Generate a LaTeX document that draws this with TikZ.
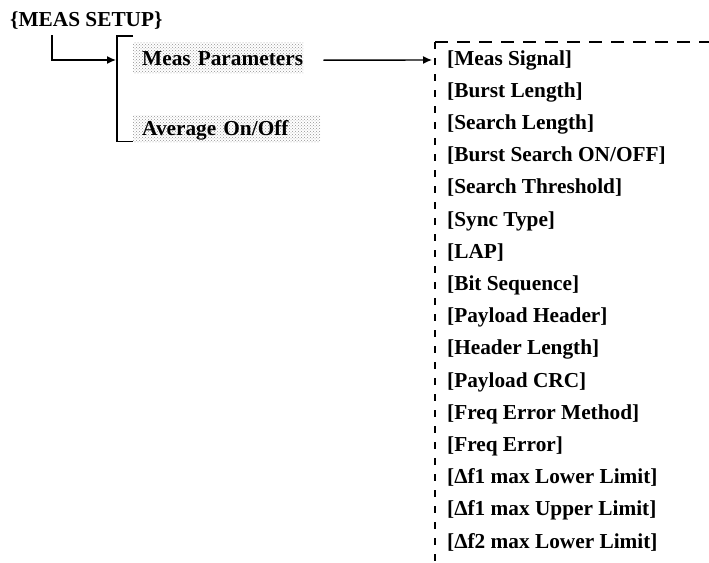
\documentclass[tikz,border=0pt]{standalone}
\usepackage{fontspec}
\setmainfont{Liberation Serif}
\usetikzlibrary{arrows.meta,patterns}
\begin{document}
\begin{tikzpicture}[x=1pt,y=-1pt,
  every node/.style={inner sep=0pt, font=\bfseries\fontsize{21.3}{24}\selectfont},
  arr/.style={line width=1.4pt, -{Latex[length=9pt,width=8pt]}},
  line/.style={line width=1.4pt},
  stip/.style={pattern=crosshatch dots, pattern color=gray!85, anchor=north west, inner xsep=0pt, align=left},
  item/.style={anchor=base west},
  dashtop/.style={line width=1.4pt, dash pattern=on 13pt off 9pt},
  dashleft/.style={line width=1.4pt, dash pattern=on 7pt off 9pt}]
\useasboundingbox (0,0) rectangle (709,562);

\node[anchor=base west] (ms) at (10,27) {\{MEAS SETUP\}};

\node[stip, text width=170pt, text height=16.5pt, text depth=1.5pt, inner ysep=6.5pt] (mp) at (133,42) {\hspace*{9pt}\mbox{Meas Parameters}};
\node[stip, text width=187pt, text height=15pt, text depth=2pt, inner ysep=5pt] (av) at (133,115) {\hspace*{9pt}\mbox{Average On/Off}};

\coordinate (br) at (117,60);
\draw[arr] ([shift={(42,5)}]ms.south west) |- ([xshift=-1]br);
\draw[line] ([yshift=6]mp.north west) -- ++(-16,0) |- ([yshift=1]av.south west);

\coordinate (bx) at (435,42);
\coordinate (bxr) at (709,42);
\coordinate (bxb) at (435,562);
\draw[dashtop] (bx) -- (bxr);
\draw[dashleft] (bx) -- (bxb);

\foreach \t [count=\i from 0] in {{[Meas Signal]},{[Burst Length]},{[Search Length]},{[Burst Search ON/OFF]},{[Search Threshold]},{[Sync Type]},{[LAP]},{[Bit Sequence]},{[Payload Header]},{[Header Length]},{[Payload CRC]},{[Freq Error Method]},{[Freq Error]},{[Δf1 max Lower Limit]},{[Δf1 max Upper Limit]},{[Δf2 max Lower Limit]}}
  \node[item] (it\i) at (447,{65+32.2*\i}) {\t};

\draw[arr] ([shift={(20,2.5)}]mp.east) -- ([shift={(-3,18)}]bx);
\end{tikzpicture}
\end{document}
